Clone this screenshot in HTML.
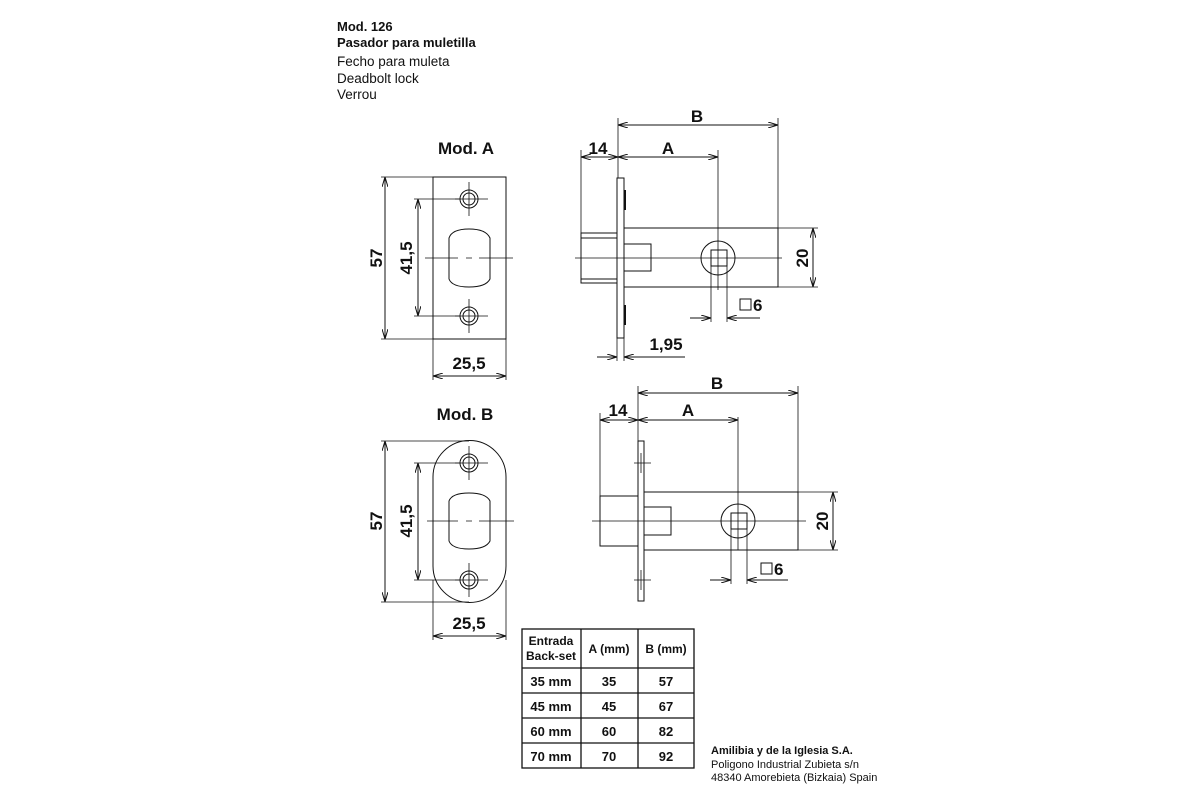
<!DOCTYPE html>
<html><head><meta charset="utf-8"><style>
html,body{margin:0;padding:0;background:#fff;}
svg{display:block;}
text{font-family:"Liberation Sans",Arial,sans-serif;fill:#111;}
.b{font-weight:bold;}
.d{font-weight:bold;font-size:17px;}
</style></head><body>
<svg width="1200" height="800" viewBox="0 0 1200 800" xmlns="http://www.w3.org/2000/svg">
<defs>
<marker id="a" viewBox="0 0 10 6" refX="10" refY="3" markerWidth="10" markerHeight="6" orient="auto-start-reverse" markerUnits="userSpaceOnUse"><path d="M0,0 L10,3 L0,6" fill="none" stroke="#111" stroke-width="1"/></marker>
</defs>
<g stroke="#111" stroke-width="1" fill="none">
<!-- header -->
</g>
<text x="337" y="31" class="b" font-size="13">Mod. 126</text>
<text x="337" y="47" class="b" font-size="13">Pasador para muletilla</text>
<text x="337" y="66" font-size="13.5">Fecho para muleta</text>
<text x="337" y="83" font-size="13.5">Deadbolt lock</text>
<text x="337" y="99" font-size="13.5">Verrou</text>

<!-- MOD A plate -->
<text x="466" y="154" class="d" text-anchor="middle">Mod. A</text>
<g stroke="#111" stroke-width="1" fill="none">
<rect x="433" y="177" width="73" height="162"/>
<circle cx="469" cy="199" r="9"/><circle cx="469" cy="199" r="6"/>
<circle cx="469" cy="316" r="9"/><circle cx="469" cy="316" r="6"/>
<path d="M455,199H488M469,182V216M455,316H488M469,299V333" stroke-width="0.8"/>
<path d="M449,238 Q452,229 469,229 Q486,229 490,238 V279 Q486,287 469,287 Q452,287 449,279 Z"/>
<path d="M425,258H458M466,258H472M479,258H513" stroke-width="0.8"/>
<path d="M381,177H433M381,339H433M414,199H460M414,316H460M433,339V380M506,339V380" stroke-width="0.8"/>
<line x1="385" y1="177" x2="385" y2="339" marker-start="url(#a)" marker-end="url(#a)"/>
<line x1="418" y1="199" x2="418" y2="316" marker-start="url(#a)" marker-end="url(#a)"/>
<line x1="433" y1="376" x2="506" y2="376" marker-start="url(#a)" marker-end="url(#a)"/>
</g>
<text class="d" transform="translate(382,258) rotate(-90)" text-anchor="middle">57</text>
<text class="d" transform="translate(412,258) rotate(-90)" text-anchor="middle">41,5</text>
<text class="d" x="469" y="369" text-anchor="middle">25,5</text>

<!-- MOD B plate -->
<text x="465" y="420" class="d" text-anchor="middle">Mod. B</text>
<g stroke="#111" stroke-width="1" fill="none">
<path d="M433,477 A36.5,36.5 0 0 1 506,477 V566 A36.5,36.5 0 0 1 433,566 Z"/>
<circle cx="469" cy="463" r="9"/><circle cx="469" cy="463" r="6"/>
<circle cx="469" cy="580" r="9"/><circle cx="469" cy="580" r="6"/>
<path d="M455,463H488M469,446V480M455,580H488M469,563V597" stroke-width="0.8"/>
<path d="M449,501 Q452,493 469,493 Q486,493 490,501 V541 Q486,549 469,549 Q452,549 449,541 Z"/>
<path d="M427,521H458M466,521H472M479,521H514" stroke-width="0.8"/>
<path d="M381,441H469M381,602H469M414,463H460M414,580H460M433,580V640M506,580V640" stroke-width="0.8"/>
<line x1="385" y1="441" x2="385" y2="602" marker-start="url(#a)" marker-end="url(#a)"/>
<line x1="418" y1="463" x2="418" y2="580" marker-start="url(#a)" marker-end="url(#a)"/>
<line x1="433" y1="636" x2="506" y2="636" marker-start="url(#a)" marker-end="url(#a)"/>
</g>
<text class="d" transform="translate(382,521) rotate(-90)" text-anchor="middle">57</text>
<text class="d" transform="translate(412,521) rotate(-90)" text-anchor="middle">41,5</text>
<text class="d" x="469" y="629" text-anchor="middle">25,5</text>

<!-- SIDE A -->
<g stroke="#111" stroke-width="1" fill="none">
<rect x="617" y="178" width="7" height="160"/>
<path d="M625,190V210M625,305V325" stroke-width="2"/>
<rect x="624" y="228" width="154" height="59"/>
<rect x="581" y="233" width="36" height="50"/>
<path d="M581,238H617M581,279H617"/>
<rect x="624" y="244" width="27" height="27"/>
<circle cx="718" cy="258" r="17"/>
<rect x="711" y="250" width="16" height="16"/>
<path d="M575,258H782M718,150V290" stroke-width="0.8"/>
<path d="M618,118V178M778,118V228M581,150V233M778,228H818M778,287H818M711,266V322M727,266V322M617,338V361M624,338V361" stroke-width="0.8"/>
<line x1="618" y1="125" x2="778" y2="125" marker-start="url(#a)" marker-end="url(#a)"/>
<line x1="581" y1="157" x2="618" y2="157" marker-start="url(#a)" marker-end="url(#a)"/>
<line x1="618" y1="157" x2="718" y2="157" marker-start="url(#a)" marker-end="url(#a)"/>
<line x1="813" y1="228" x2="813" y2="287" marker-start="url(#a)" marker-end="url(#a)"/>
<line x1="690" y1="318" x2="711" y2="318" marker-end="url(#a)"/>
<line x1="760" y1="318" x2="727" y2="318" marker-end="url(#a)"/>
<line x1="597" y1="357" x2="617" y2="357" marker-end="url(#a)"/>
<line x1="685" y1="357" x2="624" y2="357" marker-end="url(#a)"/>
<rect x="740" y="299" width="11" height="11"/>
</g>
<text class="d" x="697" y="122" text-anchor="middle">B</text>
<text class="d" x="598" y="154" text-anchor="middle">14</text>
<text class="d" x="668" y="154" text-anchor="middle">A</text>
<text class="d" transform="translate(808,258) rotate(-90)" text-anchor="middle">20</text>
<text class="d" x="753" y="311">6</text>
<text class="d" x="666" y="350" text-anchor="middle">1,95</text>

<!-- SIDE B -->
<g stroke="#111" stroke-width="1" fill="none">
<rect x="638" y="441" width="6" height="160"/>
<path d="M634,463H651M641,453V473M634,580H651M641,570V590" stroke-width="0.8"/>
<rect x="644" y="492" width="154" height="58"/>
<rect x="600" y="496" width="38" height="50"/>
<rect x="644" y="507" width="27" height="28"/>
<circle cx="738" cy="521" r="17"/>
<rect x="731" y="513" width="16" height="16"/>
<path d="M592,521H806M738,417V550" stroke-width="0.8"/>
<path d="M638,386V441M798,386V492M600,413V496M798,492H838M798,550H838M731,529V584M747,529V584" stroke-width="0.8"/>
<line x1="638" y1="393" x2="798" y2="393" marker-start="url(#a)" marker-end="url(#a)"/>
<line x1="600" y1="420" x2="638" y2="420" marker-start="url(#a)" marker-end="url(#a)"/>
<line x1="638" y1="420" x2="738" y2="420" marker-start="url(#a)" marker-end="url(#a)"/>
<line x1="833" y1="492" x2="833" y2="550" marker-start="url(#a)" marker-end="url(#a)"/>
<line x1="710" y1="580" x2="731" y2="580" marker-end="url(#a)"/>
<line x1="788" y1="580" x2="747" y2="580" marker-end="url(#a)"/>
<rect x="761" y="563" width="11" height="11"/>
</g>
<text class="d" x="717" y="389" text-anchor="middle">B</text>
<text class="d" x="618" y="416" text-anchor="middle">14</text>
<text class="d" x="688" y="416" text-anchor="middle">A</text>
<text class="d" transform="translate(828,521) rotate(-90)" text-anchor="middle">20</text>
<text class="d" x="774" y="575">6</text>

<!-- TABLE -->
<g stroke="#111" stroke-width="1.3" fill="none">
<rect x="522" y="629" width="172" height="139"/>
<path d="M581,629V768M638,629V768M522,668H694M522,693H694M522,718H694M522,743H694"/>
</g>
<g class="b" font-size="12" text-anchor="middle">
<text x="551" y="645" class="b">Entrada</text>
<text x="551" y="660" class="b">Back-set</text>
<text x="609" y="653" class="b">A (mm)</text>
<text x="666" y="653" class="b">B (mm)</text>
</g>
<g font-size="13" text-anchor="middle">
<text class="b" x="551" y="686">35 mm</text><text class="b" x="609" y="686">35</text><text class="b" x="666" y="686">57</text>
<text class="b" x="551" y="711">45 mm</text><text class="b" x="609" y="711">45</text><text class="b" x="666" y="711">67</text>
<text class="b" x="551" y="736">60 mm</text><text class="b" x="609" y="736">60</text><text class="b" x="666" y="736">82</text>
<text class="b" x="551" y="761">70 mm</text><text class="b" x="609" y="761">70</text><text class="b" x="666" y="761">92</text>
</g>
<text x="711" y="754" class="b" font-size="11">Amilibia y de la Iglesia S.A.</text>
<text x="711" y="768" font-size="11">Poligono Industrial Zubieta s/n</text>
<text x="711" y="781" font-size="11">48340 Amorebieta (Bizkaia) Spain</text>
</svg>
</body></html>
